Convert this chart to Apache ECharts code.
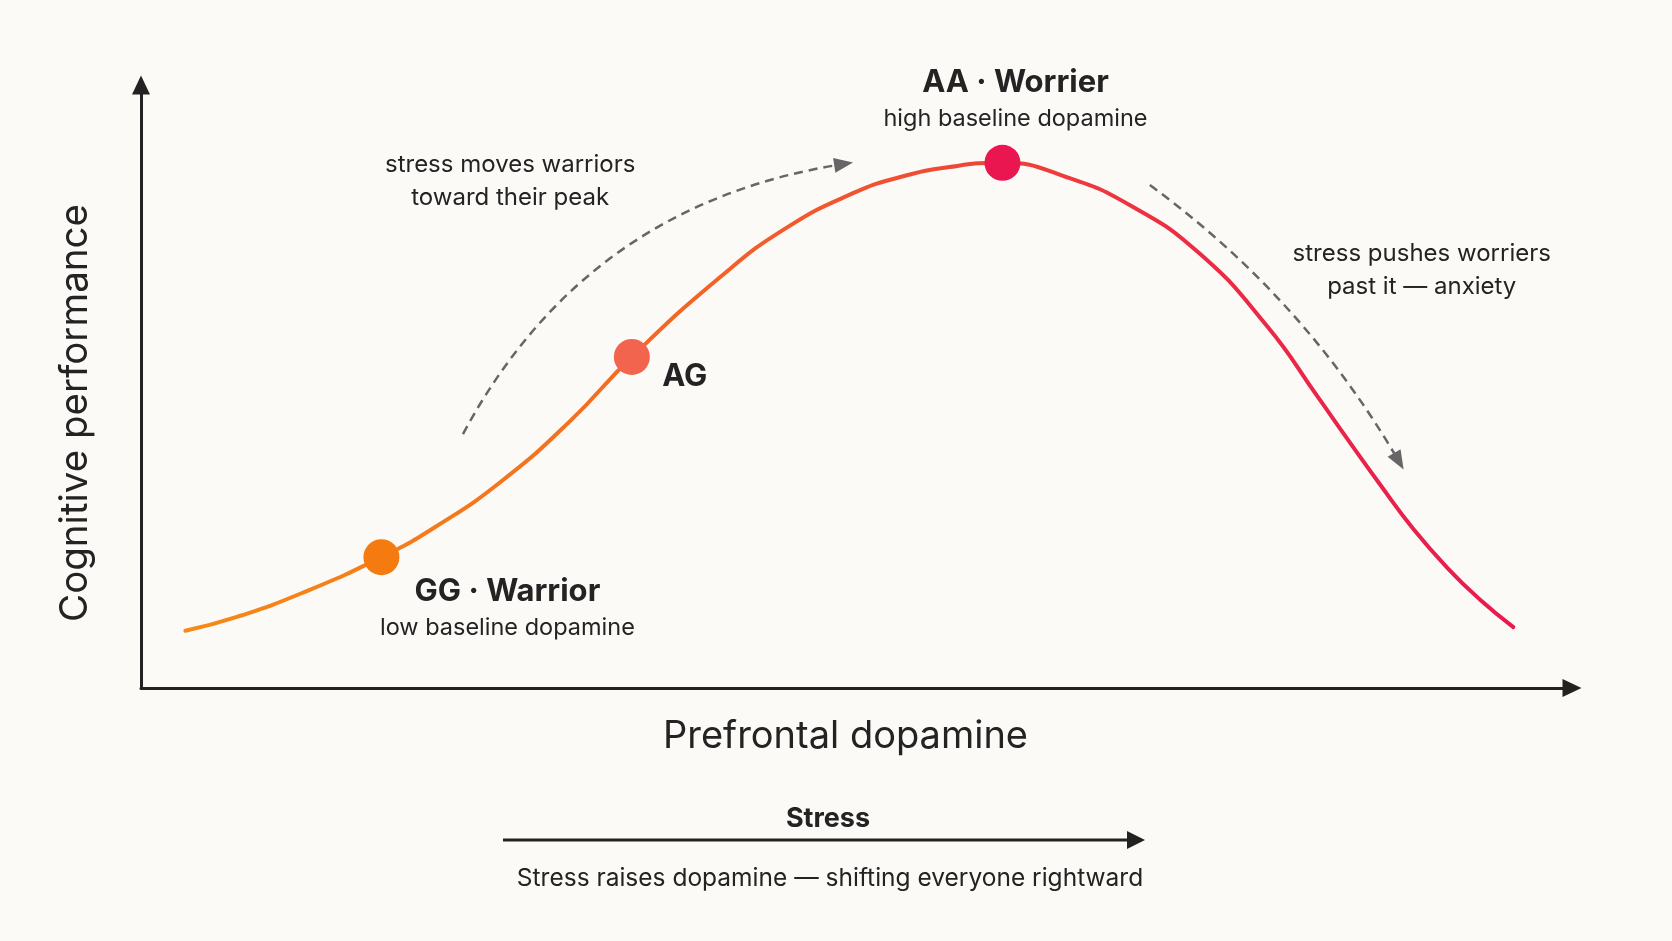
<!DOCTYPE html>
<html>
<head>
<meta charset="utf-8">
<script src="https://cdn.jsdelivr.net/npm/echarts/dist/echarts.min.js"></script>
<style>
  html, body { margin: 0; padding: 0; background: #fbfaf7; }
  #chart { width: 1672px; height: 941px; }
</style>
</head>
<body>
<div id="chart"></div>
<script>
// ---- Data ----
const xAxisName = 'Prefrontal dopamine';
const yAxisName = 'Cognitive performance';

// inverted-U curve: dopamine (x) vs performance (y), 0..100 scale
const curveDopamine    = [3.1, 6.7, 11.3, 16.8, 20.7, 25.3, 30.0, 34.3, 40.5, 45.1, 49.8, 53.0, 56.5, 60.2, 64.7, 69.3, 74.0, 78.7, 82.2, 84.3, 86.6, 88.9, 91.3, 93.6, 95.9];
const curvePerformance = [9.5, 11.8, 15.8, 21.7, 26.9, 34.5, 44.3, 54.9, 68.2, 76.3, 82.1, 84.7, 86.4, 87.1, 84.7, 79.8, 72.0, 60.0, 48.4, 41.3, 33.7, 26.4, 19.9, 14.6, 10.1];

// genotype points
const genotypeNames       = ['GG', 'AG', 'AA'];
const genotypeTitles      = ['GG · Warrior', 'AG', 'AA · Worrier'];
const genotypeSubtitles   = ['low baseline dopamine', '', 'high baseline dopamine'];
const genotypeDopamine    = [16.8, 34.3, 60.2];
const genotypePerformance = [21.7, 54.9, 87.1];
const genotypeColors      = ['#f57a10', '#f3644f', '#ea1650'];

// dashed stress arrows: start and end points
const arrowWarriorFrom = [22.5, 42.1];
const arrowWarriorTo   = [49.1, 86.9];
const arrowWorrierFrom = [70.5, 83.4];
const arrowWorrierTo   = [87.9, 37.6];

// annotations
const annotationTexts = ['stress moves warriors\ntoward their peak', 'stress pushes worriers\npast it — anxiety'];
const annotationX     = [25.8, 89.5];
const annotationY     = [84.0, 69.2];

const stressTitle = 'Stress';
const stressNote  = 'Stress raises dopamine — shifting everyone rightward';

// ---- Chart ----
const FONT = 'Inter';
const TEXT = '#232323';
const chart = echarts.init(document.getElementById('chart'));

const curveData = curveDopamine.map((x, i) => [x, curvePerformance[i]]);

const labelOffsets = [[126, 53], [53, 20], [13, -62]];

const genotypeData = genotypeNames.map((n, i) => {
  const sub = genotypeSubtitles[i];
  return {
    name: n,
    value: [genotypeDopamine[i], genotypePerformance[i]],
    itemStyle: { color: genotypeColors[i], opacity: 1 },
    label: {
      show: true,
      position: 'inside',
      offset: labelOffsets[i],
      align: 'center',
      verticalAlign: 'middle',
      formatter: sub ? '{t|' + genotypeTitles[i] + '}\n{s|' + sub + '}' : '{t|' + genotypeTitles[i] + '}',
      rich: {
        t: { fontFamily: FONT, fontSize: 31, fontWeight: 700, color: TEXT, lineHeight: 36, align: 'center' },
        s: { fontFamily: FONT, fontSize: 23.5, color: TEXT, lineHeight: 36, align: 'center' }
      }
    }
  };
});

const annotationData = annotationTexts.map((t, i) => ({ value: [annotationX[i], annotationY[i]], label: { formatter: t } }));

const option = {
  backgroundColor: '#fbfaf7',
  animation: false,
  grid: { left: 141, right: 100, top: 85, bottom: 253, containLabel: false },
  xAxis: {
    type: 'value', min: 0, max: 100,
    name: xAxisName, nameLocation: 'middle', nameGap: 30,
    nameTextStyle: { fontFamily: FONT, fontSize: 38, color: TEXT, padding: [0, 22, 0, 0] },
    axisLine: { show: true, onZero: false, symbol: ['none', 'triangle'], symbolSize: [18, 19], lineStyle: { color: '#222', width: 3 } },
    axisTick: { show: false }, axisLabel: { show: false }, splitLine: { show: false }
  },
  yAxis: {
    type: 'value', min: 0, max: 100,
    name: yAxisName, nameLocation: 'middle', nameGap: 46, nameRotate: 90,
    nameTextStyle: { fontFamily: FONT, fontSize: 38.5, color: TEXT, padding: [0, 53, 0, 0] },
    axisLine: { show: true, onZero: false, symbol: ['none', 'triangle'], symbolSize: [18, 19], lineStyle: { color: '#222', width: 3 } },
    axisTick: { show: false }, axisLabel: { show: false }, splitLine: { show: false }
  },
  series: [
    {
      type: 'line', data: curveData, smooth: 0.5, showSymbol: false, silent: true, z: 2,
      lineStyle: {
        width: 4, cap: 'round',
        color: new echarts.graphic.LinearGradient(0, 0, 1, 0, [
          { offset: 0, color: '#f68a16' },
          { offset: 0.3, color: '#f4701f' },
          { offset: 0.55, color: '#f04d33' },
          { offset: 0.75, color: '#ec2d44' },
          { offset: 1, color: '#e8194f' }
        ])
      }
    },
    {
      type: 'lines', coordinateSystem: 'cartesian2d', silent: true, z: 1,
      symbol: ['none', 'triangle'], symbolSize: [0, [15, 19]],
      lineStyle: { color: '#666', width: 2.5, type: [9, 6], opacity: 1 },
      data: [
        { coords: [arrowWarriorFrom, arrowWarriorTo], lineStyle: { curveness: 0.25 } },
        { coords: [arrowWorrierFrom, arrowWorrierTo], lineStyle: { curveness: 0.105 } }
      ]
    },
    {
      type: 'scatter', data: genotypeData, symbolSize: 36, silent: true, z: 5,
      itemStyle: { opacity: 1 }
    },
    {
      type: 'scatter', data: annotationData, symbolSize: 1, silent: true, z: 4,
      itemStyle: { color: 'rgba(0,0,0,0)', opacity: 1 },
      label: {
        show: true, position: 'inside', align: 'center', verticalAlign: 'middle',
        fontFamily: FONT, fontSize: 24, lineHeight: 33, color: TEXT
      }
    }
  ],
  graphic: [
    { type: 'text', x: 828, y: 819, style: { text: stressTitle, font: 'bold 27px ' + FONT, fill: TEXT, textAlign: 'center', textVerticalAlign: 'middle' } },
    { type: 'line', shape: { x1: 503, y1: 840, x2: 1130, y2: 840 }, style: { stroke: '#222', lineWidth: 3 } },
    { type: 'polygon', shape: { points: [[1127, 831], [1145, 840], [1127, 849]] }, style: { fill: '#222' } },
    { type: 'text', x: 830, y: 879, style: { text: stressNote, font: '24.5px ' + FONT, fill: TEXT, textAlign: 'center', textVerticalAlign: 'middle' } }
  ]
};
chart.setOption(option);
</script>
</body>
</html>
